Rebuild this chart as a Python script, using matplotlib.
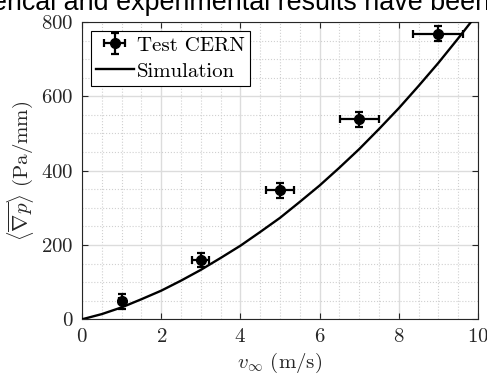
import matplotlib
matplotlib.use('Agg')
import matplotlib.pyplot as plt
from matplotlib.ticker import MultipleLocator

# measured points (Test CERN)
v_test = [1, 3, 5, 7, 9]
p_test = [48, 160, 347, 538, 769]
v_err = [0.07, 0.21, 0.35, 0.49, 0.63]
p_err = [19, 19, 21, 21, 21]

# simulation curve
v_sim = [0, 0.5, 1, 1.5, 2, 2.5, 3, 3.5, 4, 4.5, 5, 5.5, 6, 6.5, 7, 7.5, 8, 8.5, 9, 9.5, 10]
p_sim = [0, 14, 32, 54, 77, 104, 133, 165, 198, 235, 273, 316, 360, 408, 458, 512, 568, 628, 690, 756, 824]

# cut-off document line above the figure
top_line = 'erical and experimental results have been'

plt.rcParams['font.family'] = 'serif'
plt.rcParams['font.serif'] = ['cmr10']
plt.rcParams['mathtext.fontset'] = 'cm'
plt.rcParams['axes.formatter.use_mathtext'] = True

W, H = 487, 377
fig = plt.figure(figsize=(W / 100, H / 100), dpi=100)
ax = fig.add_axes([82 / W, 1 - 319.3 / H, 396 / W, 297.3 / H])

txt_color = '#262626'

eb = ax.errorbar(v_test, p_test, xerr=v_err, yerr=p_err, fmt='o', color='black',
                 markersize=7, elinewidth=1.6, capsize=3, capthick=1.6,
                 label='Test CERN', zorder=4)
ln, = ax.plot(v_sim, p_sim, color='black', linewidth=1.7, label='Simulation', zorder=3)

ax.set_xlim(0, 10)
ax.set_ylim(0, 800)
ax.xaxis.set_major_locator(MultipleLocator(2))
ax.xaxis.set_minor_locator(MultipleLocator(0.5))
ax.yaxis.set_major_locator(MultipleLocator(200))
ax.yaxis.set_minor_locator(MultipleLocator(50))

ax.grid(which='major', color='#dcdcdc', linewidth=1.0, linestyle='-')
ax.grid(which='minor', color='#d0d0d0', linewidth=0.8, linestyle=':')
ax.set_axisbelow(True)

ax.tick_params(which='major', direction='in', length=4, width=0.8,
               top=True, right=True, labelsize=15, colors=txt_color, pad=6)
ax.tick_params(which='minor', length=0, top=True, right=True)
for s in ax.spines.values():
    s.set_color(txt_color)
    s.set_linewidth(0.8)

ax.set_xlabel(r'$v_\infty$ (m/s)', fontsize=15, color=txt_color, labelpad=4)
ax.set_ylabel(r'$\langle\overline{\nabla p}\rangle$ (Pa/mm)', fontsize=15,
              color=txt_color, labelpad=4)

leg = ax.legend([eb, ln], ['Test CERN', 'Simulation'], loc='upper left',
                fontsize=15, fancybox=False, framealpha=1, edgecolor='black',
                borderpad=0.25, labelspacing=0.35, handlelength=1.8,
                handletextpad=0.15, borderaxespad=0.43)
leg.get_frame().set_linewidth(0.8)

fig.text(-8 / W, 1 - 10 / H, top_line, fontsize=19.4, family='Liberation Sans',
         color='black', ha='left', va='baseline')

fig.savefig('out.png', dpi=100)
